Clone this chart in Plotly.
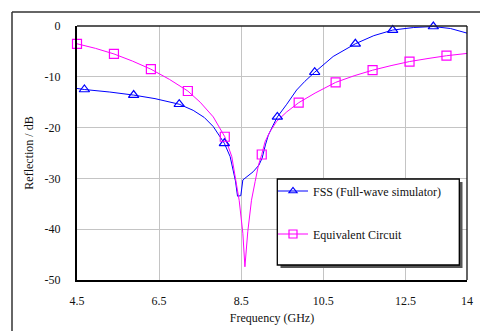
import plotly.graph_objects as go

# ---- data ----
fss_freq = [4.5, 4.68, 5.3, 5.88, 6.4, 6.99, 7.33, 7.6, 7.82, 8.09, 8.23, 8.31, 8.36, 8.41,
            8.49, 8.54, 8.63, 8.79, 8.93, 9.01, 9.09, 9.16, 9.28, 9.38, 9.61, 9.85, 10.05,
            10.29, 10.74, 11.28, 11.73, 12.19, 12.7, 13.18, 13.6, 14.0]
fss_db = [-12.3, -12.5, -13.0, -13.6, -14.3, -15.4, -16.6, -18.0, -19.8, -23.1, -25.7, -28.3,
          -30.5, -33.5, -33.4, -30.3, -29.7, -28.7, -27.4, -26.0, -23.4, -21.5, -19.5, -17.9,
          -15.4, -12.6, -10.9, -9.1, -6.0, -3.5, -1.9, -0.8, -0.3, -0.1, -0.5, -1.4]
fss_marker_freq = [4.68, 5.88, 6.99, 8.09, 9.38, 10.29, 11.28, 12.19, 13.18]
fss_marker_db = [-12.5, -13.6, -15.4, -23.1, -17.9, -9.1, -3.5, -0.8, -0.1]

ec_freq = [4.5, 4.95, 5.4, 5.85, 6.3, 6.75, 7.2, 7.5, 7.82, 8.1, 8.27, 8.37, 8.45, 8.54, 8.59,
           8.66, 8.75, 8.84, 8.92, 9.0, 9.08, 9.2, 9.36, 9.61, 9.9, 10.3, 10.8, 11.25, 11.7,
           12.15, 12.6, 13.05, 13.5, 14.0]
ec_db = [-3.5, -4.4, -5.5, -6.9, -8.5, -10.5, -12.8, -15.0, -17.9, -21.8, -25.7, -30.3, -34.3,
         -40.8, -47.4, -40.5, -34.3, -30.6, -27.4, -25.3, -22.8, -20.8, -18.8, -16.9, -15.1,
         -13.2, -11.1, -9.8, -8.7, -7.8, -7.0, -6.4, -5.85, -5.4]
ec_marker_freq = [4.5, 5.4, 6.3, 7.2, 8.1, 9.0, 9.9, 10.8, 11.7, 12.6, 13.5]
ec_marker_db = [-3.5, -5.5, -8.5, -12.8, -21.8, -25.3, -15.1, -11.1, -8.7, -7.0, -5.85]

x_ticks = [4.5, 6.5, 8.5, 10.5, 12.5, 14]
x_tick_labels = ["4.5", "6.5", "8.5", "10.5", "12.5", "14"]
y_ticks = [0, -10, -20, -30, -40, -50]
y_tick_labels = ["0", "-10", "-20", "-30", "-40", "-50"]

series_names = ["FSS (Full-wave simulator)", "Equivalent Circuit"]

BLUE = "#0000ff"
MAGENTA = "#ff00ff"
FONT = "'Liberation Serif', 'Times New Roman', Times, serif"

# the page adds an 8px body margin; lay out in screen pixels and compensate
OFF = 8
W, H = 488, 331
PL, PR, PT, PB = 77, 467, 26, 280          # plot area on screen
ML = PL - OFF
MT = PT - OFF
PW = PR - PL
PH = PB - PT
MR = W - ML - PW
MB = H - MT - PH


def px(xs):
    return (xs - PL) / PW


def py(ys):
    return (PB - ys) / PH


fig = go.Figure()

# lines
fig.add_trace(go.Scatter(x=fss_freq, y=fss_db, mode="lines",
                         line=dict(color=BLUE, width=1), showlegend=False, hoverinfo="skip"))
fig.add_trace(go.Scatter(x=ec_freq, y=ec_db, mode="lines",
                         line=dict(color=MAGENTA, width=1), showlegend=False, hoverinfo="skip"))
# markers
fig.add_trace(go.Scatter(x=fss_marker_freq, y=fss_marker_db, mode="markers", cliponaxis=False,
                         marker=dict(symbol="triangle-up-open", size=9, color=BLUE,
                                     line=dict(width=1.2, color=BLUE)),
                         showlegend=False))
fig.add_trace(go.Scatter(x=ec_marker_freq, y=ec_marker_db, mode="markers", cliponaxis=False,
                         marker=dict(symbol="square-open", size=9, color=MAGENTA,
                                     line=dict(width=1.2, color=MAGENTA)),
                         showlegend=False))
# legend entries
fig.add_trace(go.Scatter(x=[None], y=[None], mode="lines+markers", name=series_names[0],
                         legendgroup="a",
                         line=dict(color=BLUE, width=1),
                         marker=dict(symbol="triangle-up-open", size=7, color=BLUE,
                                     line=dict(width=1.2, color=BLUE))))
fig.add_trace(go.Scatter(x=[None], y=[None], mode="lines+markers", name=series_names[1],
                         legendgroup="b",
                         line=dict(color=MAGENTA, width=1),
                         marker=dict(symbol="square-open", size=8, color=MAGENTA,
                                     line=dict(width=1.2, color=MAGENTA))))

shapes = [
    # outer frame (top and left edges visible)
    dict(type="line", xref="paper", yref="paper", x0=px(12), x1=px(W + 20), y0=py(12), y1=py(12),
         line=dict(color="#333333", width=1.5)),
    dict(type="line", xref="paper", yref="paper", x0=px(12), x1=px(12), y0=py(12), y1=py(H + 20),
         line=dict(color="#333333", width=1.5)),
    # top / right plot border
    dict(type="line", xref="paper", yref="paper", x0=0, x1=1, y0=1, y1=1,
         line=dict(color="#222222", width=1.3)),
    dict(type="line", xref="paper", yref="paper", x0=1, x1=1, y0=0, y1=1,
         line=dict(color="#111111", width=1.3)),
    # legend shadow and box
    dict(type="rect", xref="paper", yref="paper", x0=px(280.5), x1=px(462.5), y0=py(268), y1=py(182),
         fillcolor="#555555", line=dict(width=0), layer="above"),
    dict(type="rect", xref="paper", yref="paper", x0=px(277.3), x1=px(459.3), y0=py(265), y1=py(179),
         fillcolor="white", line=dict(color="black", width=1.3), layer="above"),
]

fig.update_layout(
    width=W, height=H,
    margin=dict(l=ML, r=MR, t=MT, b=MB, pad=0),
    paper_bgcolor="white", plot_bgcolor="white",
    font=dict(family=FONT, size=12, color="#111111"),
    shapes=shapes,
    showlegend=True,
    legend=dict(x=px(273), y=py(176.5), xanchor="left", yanchor="top",
                bgcolor="rgba(0,0,0,0)", borderwidth=0, tracegroupgap=24,
                font=dict(family=FONT, size=12, color="#111111")),
    xaxis=dict(range=[4.5, 14], tickvals=x_ticks, ticktext=x_tick_labels,
               showgrid=True, gridcolor="#c4c4c4", gridwidth=1, zeroline=False,
               showline=True, linecolor="black", linewidth=2, ticks="",
               ticklabelstandoff=9,
               tickfont=dict(family=FONT, size=12, color="#111111"),
               title=dict(text="Frequency (GHz)", standoff=6,
                          font=dict(family=FONT, size=12, color="#111111"))),
    yaxis=dict(range=[-50, 0], tickvals=y_ticks, ticktext=y_tick_labels,
               showgrid=True, gridcolor="#c4c4c4", gridwidth=1, zeroline=False,
               showline=True, linecolor="black", linewidth=2, ticks="",
               ticklabelstandoff=12,
               tickfont=dict(family=FONT, size=12, color="#111111"),
               title=dict(text="Reflection / dB", standoff=8,
                          font=dict(family=FONT, size=12, color="#111111"))),
)

fig.write_html("out.html")
